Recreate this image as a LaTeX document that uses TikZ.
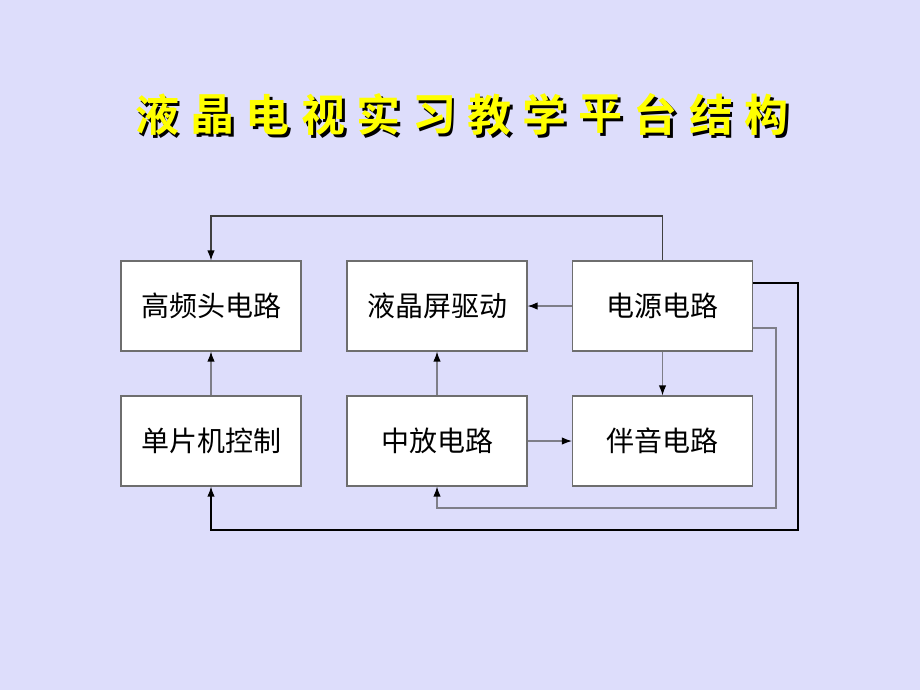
\documentclass[tikz,border=0pt]{standalone}
\usepackage{fontspec}
\newfontfamily\cjk{Noto Sans CJK SC}
\newfontfamily\cjkb{Noto Sans CJK SC Bold}
\usetikzlibrary{arrows.meta}
\definecolor{bg}{HTML}{DDDDFB}
\definecolor{boxline}{HTML}{6E6E6E}
\definecolor{grayline}{HTML}{7E7E88}
\definecolor{ttl}{HTML}{FFFF00}
\newcommand{\shadowch}[1]{\rlap{\kern2.2pt\raisebox{-2.2pt}{\color{black}#1}}\color{ttl}#1}
\begin{document}
\begin{tikzpicture}[x=0.75pt,y=-0.75pt,
  blk/.style={draw=boxline,line width=0.8pt,fill=white,minimum width=135pt,minimum height=67.5pt,inner sep=0pt,font=\cjk\fontsize{21}{21}\selectfont},
  conn/.style={line width=0.85pt,-{Latex[length=7.5pt,width=5.5pt,fill=black,color=black]}},
  ttlch/.style={font=\cjkb\fontsize{33}{33}\selectfont,inner sep=0pt}]
\useasboundingbox[fill=bg] (0,0) rectangle (920,690);
% title
\foreach \c [count=\i from 0] in {液,晶,电,视,实,习,教,学,平,台,结,构}{
  \node[ttlch] (t\i) at (157+55.4*\i,116) {\shadowch{\c}};
}
% boxes
\node[blk] (gp) at (211,306) {高频头电路};
\node[blk] (lcd) at (437,306) {液晶屏驱动};
\node[blk] (pw) at (662.5,306) {电源电路};
\node[blk] (mcu) at (211,441) {单片机控制};
\node[blk] (if) at (437,441) {中放电路};
\node[blk] (snd) at (662.5,441) {伴音电路};
% connectors
\draw[conn,draw=black!75] (pw.north) |- (437,216) -| (gp.north);
\draw[conn,draw=grayline] (pw.west) -- (lcd.east);
\draw[conn,draw=grayline] (pw.south) -- (snd.north);
\draw[conn,draw=grayline] (mcu.north) -- (gp.south);
\draw[conn,draw=grayline] (if.north) -- (lcd.south);
\draw[conn,draw=grayline] (if.east) -- (snd.west);
\coordinate (p1) at (pw.east |- 0,283);
\coordinate (p2) at (pw.east |- 0,328);
\draw[conn,draw=black] (p1) -- (798,283) -- (798,530) -| (mcu.south);
\draw[conn,draw=grayline] (p2) -- (776,328) -- (776,508) -| (if.south);
\end{tikzpicture}
\end{document}
